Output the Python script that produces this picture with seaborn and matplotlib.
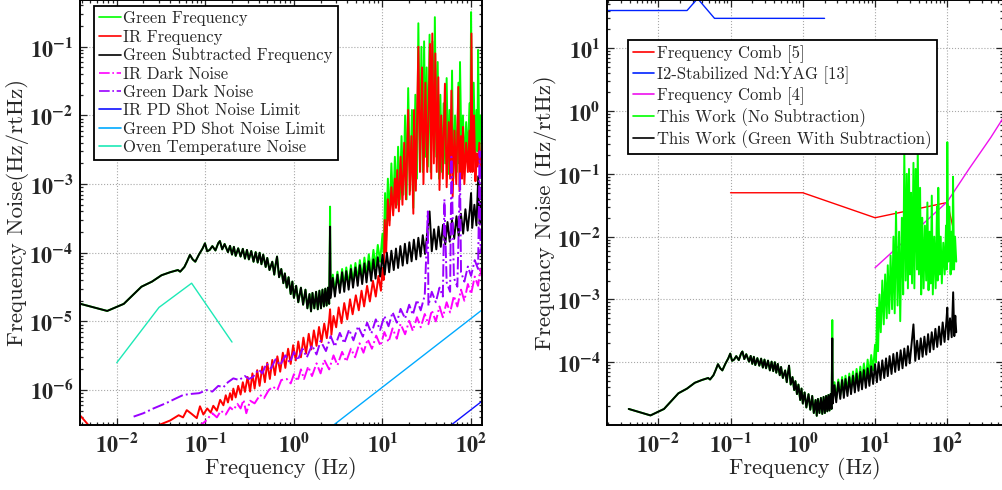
import matplotlib
matplotlib.use("Agg")
import matplotlib.pyplot as plt
import seaborn as sns

# ---------------- data ----------------
# low-frequency part shared by the green and green-subtracted spectra
common_freq = [0.0039, 0.0078, 0.012, 0.019, 0.025, 0.032, 0.04, 0.049, 0.052, 0.058,
               0.062, 0.067, 0.072, 0.077, 0.085, 0.093, 0.099, 0.105, 0.112, 0.12,
               0.13, 0.14, 0.146, 0.155, 0.165, 0.18, 0.19, 0.2, 0.21, 0.22,
               0.235, 0.25, 0.265, 0.28, 0.295, 0.31, 0.33, 0.35, 0.37, 0.39,
               0.41, 0.43, 0.45, 0.48, 0.5, 0.53, 0.57, 0.6, 0.62, 0.645,
               0.68, 0.72, 0.76, 0.79, 0.83, 0.87, 0.92, 0.96, 1.0, 1.06,
               1.12, 1.2, 1.27, 1.35, 1.42, 1.5, 1.56, 1.62, 1.7, 1.78,
               1.86, 1.94, 2.02, 2.1, 2.18, 2.26, 2.34, 2.42, 2.5]
common_noise = [1.8e-5, 1.42e-5, 1.8e-5, 3.2e-5, 3.8e-5, 4.7e-5, 5.2e-5, 5.6e-5, 5.3e-5, 6.2e-5,
                7.4e-5, 9.3e-5, 8.0e-5, 7.4e-5, 9.5e-5, 1.15e-4, 1.37e-4, 1.05e-4, 1.1e-4, 1.25e-4,
                1.08e-4, 1.38e-4, 1.48e-4, 1.12e-4, 1.34e-4, 1.02e-4, 1.26e-4, 9.4e-5, 1.22e-4, 9.0e-5,
                1.16e-4, 8.8e-5, 1.14e-4, 8.2e-5, 1.1e-4, 8.0e-5, 1.06e-4, 7.4e-5, 1.02e-4, 7.2e-5,
                1.0e-4, 6.8e-5, 9.4e-5, 6.2e-5, 8.4e-5, 5.6e-5, 7.4e-5, 4.8e-5, 6.6e-5, 8.8e-5,
                4.4e-5, 5.8e-5, 3.6e-5, 5.0e-5, 3.1e-5, 4.4e-5, 2.5e-5, 3.8e-5, 2.2e-5, 3.3e-5,
                1.9e-5, 3.1e-5, 1.75e-5, 2.9e-5, 1.55e-5, 2.5e-5, 1.4e-5, 2.6e-5, 1.55e-5, 2.7e-5,
                1.5e-5, 2.8e-5, 1.55e-5, 2.9e-5, 1.65e-5, 3.0e-5, 1.7e-5, 3.1e-5, 1.8e-5]

# green frequency above 2.5 Hz
green_tail_freq = [2.56, 2.6, 2.75, 2.9, 3.1, 3.3, 3.5, 3.7,
                   3.9, 4.15, 4.4, 4.65, 4.95, 5.25, 5.55, 5.9,
                   6.25, 6.6, 7.0, 7.45, 7.9, 8.35, 8.85, 9.4,
                   10.0, 10.3, 10.7, 11.0, 11.5, 12.0,
                   12.6, 13.2, 13.8, 14.5, 15.0, 15.7, 16.4, 17.2,
                   18.0, 18.7, 19.5, 20.5, 21.5, 22.3, 23.5, 24.5,
                   25.4, 26.5, 27.5, 28.5, 29.5, 30.5, 31.5, 32.5,
                   34.0, 35.0, 36.5, 38.0, 39.0, 40.5, 42.0, 43.5,
                   45.0, 47.0, 49.0, 51.0, 53.0, 55.0, 57.0, 59.0,
                   61.0, 63.0, 66.0, 69.0, 72.0, 73.5, 75.0, 78.0,
                   81.0, 84.0, 88.0, 92.0, 96.0, 98.0, 100.0, 103.0,
                   107.0, 111.0, 115.0, 118.0, 120.0, 124.0, 128.0, 133.0]
green_tail_noise = [4.7e-4, 2.6e-5, 4.8e-5, 2.7e-5, 5.3e-5, 3.0e-5, 5.8e-5, 3.2e-5,
                    6.1e-5, 3.4e-5, 6.6e-5, 3.7e-5, 7.1e-5, 4.0e-5, 7.8e-5, 4.3e-5,
                    8.5e-5, 4.7e-5, 9.5e-5, 5.3e-5, 1.1e-4, 6.2e-5, 1.3e-4, 7.4e-5,
                    1.9e-4, 1.0e-4, 7.4e-4, 1.5e-4, 1.2e-3, 3.0e-4,
                    2.0e-3, 4.0e-4, 2.5e-3, 5.0e-4, 3.5e-3, 6.0e-4, 5.0e-3, 7.0e-4,
                    1.0e-2, 6.0e-4, 2.5e-2, 8.0e-4, 1.2e-2, 4.5e-4, 2.0e-2, 1.2e-3,
                    0.22, 2.0e-3, 0.10, 1.5e-3, 0.12, 2.5e-3, 0.05, 1.8e-3,
                    0.15, 1.5e-3, 0.12, 3.0e-3, 0.27, 2.5e-3, 0.06, 1.2e-3,
                    0.02, 1.5e-3, 0.015, 2.0e-3, 0.035, 1.4e-3, 0.012, 1.8e-3,
                    0.045, 1.2e-3, 0.01, 1.5e-3, 0.03, 2.0e-3, 0.06, 2.5e-3,
                    0.01, 1.8e-3, 0.008, 2.5e-3, 0.015, 3.0e-3, 0.32, 4.0e-3,
                    0.03, 2.5e-3, 0.012, 3.0e-3, 0.09, 3.0e-3, 0.01, 4.0e-3]

# green with IR subtraction above 2.5 Hz
sub_tail_freq = [2.56, 2.6, 2.75, 2.9, 3.1, 3.3, 3.5, 3.7,
                 3.9, 4.15, 4.4, 4.65, 4.95, 5.25, 5.55, 5.9,
                 6.25, 6.6, 7.0, 7.45, 7.9, 8.35, 8.85, 9.4,
                 10.0, 10.6, 11.2, 11.9, 12.6, 13.4, 14.2, 15.0,
                 15.9, 16.9, 17.9, 19.0, 20.1, 21.3, 22.6, 24.0,
                 25.4, 26.9, 28.5, 30.2, 32.0, 34.0, 36.0, 38.2,
                 40.5, 42.9, 45.5, 48.2, 51.1, 54.2, 57.4, 60.9,
                 64.5, 68.4, 72.5, 76.8, 81.4, 86.3, 91.5, 97.0,
                 100.0, 103.0, 109.0, 115.0, 120.5, 125.0, 129.0, 133.0]
sub_tail_noise = [2.4e-4, 2.2e-5, 4.3e-5, 2.3e-5, 4.8e-5, 2.6e-5, 5.2e-5, 2.7e-5,
                  5.4e-5, 2.9e-5, 5.8e-5, 3.1e-5, 6.1e-5, 3.3e-5, 6.6e-5, 3.5e-5,
                  7.0e-5, 3.7e-5, 7.5e-5, 3.9e-5, 8.0e-5, 4.2e-5, 8.6e-5, 4.5e-5,
                  9.3e-5, 4.8e-5, 1.0e-4, 5.2e-5, 1.07e-4, 5.6e-5, 1.15e-4, 6.0e-5,
                  1.25e-4, 6.5e-5, 1.35e-4, 7.0e-5, 1.42e-4, 7.5e-5, 1.55e-4, 8.0e-5,
                  1.65e-4, 8.8e-5, 1.8e-4, 9.6e-5, 1.95e-4, 4.0e-4, 1.05e-4, 2.2e-4,
                  1.12e-4, 2.4e-4, 1.22e-4, 2.55e-4, 1.32e-4, 2.8e-4, 1.45e-4, 3.0e-4,
                  1.6e-4, 3.4e-4, 1.75e-4, 3.7e-4, 1.9e-4, 4.3e-4, 2.1e-4, 4.4e-4,
                  7.4e-4, 2.3e-4, 5.0e-4, 2.5e-4, 1.3e-3, 2.6e-4, 5.5e-4, 3.0e-4]

# IR frequency noise
ir_freq = [0.0039, 0.005, 0.01, 0.02, 0.03, 0.04, 0.05, 0.056,
           0.0617, 0.07, 0.08, 0.087, 0.095, 0.105, 0.115, 0.123,
           0.135, 0.147, 0.16, 0.17, 0.18, 0.19, 0.2, 0.207,
           0.22, 0.235, 0.25, 0.265, 0.28, 0.3, 0.32, 0.34,
           0.36, 0.385, 0.41, 0.44, 0.47, 0.5, 0.535, 0.57,
           0.61, 0.65, 0.7, 0.75, 0.8, 0.86, 0.92, 0.98,
           1.05, 1.12, 1.2, 1.28, 1.37, 1.47, 1.57, 1.68,
           1.8, 1.92, 2.05, 2.2, 2.35, 2.5, 2.56, 2.65,
           2.8, 3.0, 3.2, 3.45, 3.7, 4.0, 4.3, 4.6,
           5.0, 5.4, 5.8, 6.2, 6.7, 7.2, 7.8, 8.4,
           9.0, 9.6, 10.0, 10.3, 10.6, 11.0, 11.5, 12.0,
           12.6, 13.2, 13.8, 14.2, 14.7, 15.3, 16.0, 16.8,
           17.6, 18.4, 19.5, 20.3, 21.2, 22.3, 22.7, 23.8,
           25.4, 26.5, 28.0, 29.0, 30.5, 32.0, 34.4, 35.5,
           36.5, 38.0, 39.5, 41.0, 42.7, 44.0, 46.0, 48.0,
           50.7, 53.0, 56.0, 58.0, 60.0, 62.0, 65.0, 68.0,
           71.8, 74.0, 77.0, 79.0, 81.0, 84.0, 88.0, 92.0,
           96.0, 98.5, 101.0, 104.0, 108.0, 112.0, 115.0, 119.0,
           124.0, 128.0, 133.0]
ir_noise = [4.2e-7, 2.9e-7, 1.5e-7, 2.2e-7, 3.1e-7, 3.6e-7, 4.3e-7, 4.0e-7,
            5.1e-7, 4.5e-7, 3.9e-7, 5.8e-7, 4.4e-7, 5.4e-7, 4.7e-7, 5.9e-7,
            5.0e-7, 7.2e-7, 6.0e-7, 8.4e-7, 6.6e-7, 9.0e-7, 7.2e-7, 1.05e-6,
            7.8e-7, 1.15e-6, 8.6e-7, 1.3e-6, 9.4e-7, 1.55e-6, 9.5e-7, 1.75e-6,
            1.05e-6, 1.95e-6, 1.15e-6, 2.2e-6, 1.3e-6, 2.5e-6, 1.45e-6, 2.75e-6,
            1.65e-6, 3.1e-6, 1.85e-6, 3.5e-6, 2.1e-6, 4.0e-6, 2.4e-6, 4.5e-6,
            2.7e-6, 5.1e-6, 3.0e-6, 5.8e-6, 3.4e-6, 6.6e-6, 3.9e-6, 7.4e-6,
            4.4e-6, 8.3e-6, 5.0e-6, 9.3e-6, 5.7e-6, 1.05e-5, 1.5e-5, 6.4e-6,
            1.2e-5, 8.2e-6, 1.6e-5, 9.4e-6, 1.85e-5, 1.07e-5, 2.1e-5, 1.27e-5,
            2.4e-5, 1.45e-5, 2.8e-5, 1.65e-5, 3.3e-5, 1.95e-5, 3.9e-5, 2.3e-5,
            4.6e-5, 2.8e-5, 6.0e-5, 4.0e-5, 3.0e-4, 1.0e-4, 6.0e-4, 2.5e-4,
            9.0e-4, 3.5e-4, 1.2e-3, 4.5e-4, 1.6e-3, 4.0e-4, 2.5e-3, 5.0e-4,
            4.0e-3, 6.0e-4, 1.2e-2, 7.0e-4, 5.0e-3, 3.7e-4, 1.2e-2, 8.0e-4,
            0.10, 1.5e-3, 0.05, 1.0e-3, 0.03, 1.5e-3, 0.11, 1.2e-3,
            0.156, 2.0e-3, 0.08, 1.5e-3, 0.036, 8.2e-4, 0.01, 1.2e-3,
            0.029, 9.0e-4, 0.008, 1.2e-3, 0.023, 6.6e-4, 0.006, 1.0e-3,
            0.026, 8.2e-4, 0.005, 1.2e-3, 0.0068, 1.0e-3, 0.004, 1.5e-3,
            0.006, 1.5e-3, 0.156, 1.5e-3, 0.01, 1.1e-3, 2.8e-3, 1.8e-3,
            4.0e-3, 1.5e-3, 3.0e-3]

# photodetector dark noise
ir_dark_freq = [0.08, 0.1, 0.12, 0.135, 0.15, 0.17, 0.19, 0.207,
                0.23, 0.25, 0.27, 0.29, 0.32, 0.36, 0.415, 0.46,
                0.52, 0.58, 0.65, 0.72, 0.83, 0.92, 1.0, 1.1,
                1.2, 1.3, 1.45, 1.6, 1.8, 2.0, 2.2, 2.5,
                2.8, 3.1, 3.5, 3.9, 4.4, 4.9, 5.5, 6.1,
                6.8, 7.6, 8.5, 9.5, 10.5, 11.7, 13.0, 14.5,
                16.0, 18.0, 20.0, 22.0, 24.5, 27.0, 30.0, 33.0,
                36.0, 40.0, 44.0, 48.0, 53.0, 58.0, 64.0, 70.0,
                77.0, 84.0, 92.0, 100.0, 110.0, 120.0, 127.0, 133.0]
ir_dark_noise = [2.8e-7, 3.5e-7, 4.6e-7, 4.0e-7, 5.0e-7, 4.4e-7, 5.6e-7, 5.1e-7,
                 6.3e-7, 5.4e-7, 7.2e-7, 4.6e-7, 7.0e-7, 6.4e-7, 8.5e-7, 7.6e-7,
                 1.0e-6, 1.12e-6, 1.0e-6, 1.4e-6, 1.45e-6, 1.25e-6, 1.7e-6, 1.35e-6,
                 2.0e-6, 1.45e-6, 2.2e-6, 1.6e-6, 2.45e-6, 1.75e-6, 2.75e-6, 2.0e-6,
                 3.2e-6, 2.3e-6, 3.6e-6, 2.6e-6, 4.0e-6, 3.0e-6, 4.8e-6, 3.5e-6,
                 5.5e-6, 4.0e-6, 6.2e-6, 4.4e-6, 7.0e-6, 5.0e-6, 7.9e-6, 5.6e-6,
                 9.2e-6, 6.5e-6, 1.02e-5, 7.3e-6, 1.15e-5, 8.2e-6, 1.28e-5, 9.1e-6,
                 1.45e-5, 1.0e-5, 1.65e-5, 1.15e-5, 1.9e-5, 1.35e-5, 2.35e-5, 1.65e-5,
                 2.9e-5, 2.0e-5, 3.5e-5, 2.5e-5, 4.5e-5, 3.3e-5, 5.8e-5, 4.4e-5]

green_dark_freq = [0.0155, 0.02, 0.026, 0.0366, 0.045, 0.0565, 0.07, 0.085,
                   0.104, 0.12, 0.14, 0.16, 0.18, 0.207, 0.24, 0.28,
                   0.31, 0.345, 0.4, 0.44, 0.49, 0.55, 0.62, 0.7,
                   0.8, 0.9, 1.0, 1.1, 1.25, 1.4, 1.6, 1.8,
                   2.0, 2.3, 2.6, 2.9, 3.3, 3.7, 4.2, 4.7,
                   5.3, 6.0, 6.7, 7.5, 8.4, 9.4, 10.5, 11.7,
                   13.0, 14.5, 16.0, 18.0, 20.0, 22.0, 24.5, 27.0,
                   30.0, 32.5, 33.0, 36.0, 40.0, 44.0, 48.0, 50.0,
                   53.0, 58.0, 60.0, 64.0, 70.0, 75.0, 77.0, 84.0,
                   92.0, 100.0, 110.0, 120.0, 125.0, 128.0, 133.0]
green_dark_noise = [4.1e-7, 4.6e-7, 5.4e-7, 6.5e-7, 7.4e-7, 8.5e-7, 8.8e-7, 9.0e-7,
                    1.0e-6, 9.5e-7, 1.15e-6, 1.1e-6, 1.3e-6, 1.48e-6, 1.4e-6, 1.6e-6,
                    1.45e-6, 1.55e-6, 2.0e-6, 1.75e-6, 2.45e-6, 2.05e-6, 2.8e-6, 2.3e-6,
                    3.2e-6, 2.5e-6, 3.6e-6, 2.7e-6, 4.0e-6, 3.0e-6, 4.5e-6, 3.3e-6,
                    5.2e-6, 3.7e-6, 6.1e-6, 4.3e-6, 6.8e-6, 4.8e-6, 7.6e-6, 5.3e-6,
                    8.5e-6, 6.0e-6, 9.6e-6, 6.7e-6, 1.07e-5, 7.5e-6, 1.2e-5, 8.5e-6,
                    1.36e-5, 9.6e-6, 1.52e-5, 1.1e-5, 1.75e-5, 1.25e-5, 2.05e-5, 1.45e-5,
                    2.4e-5, 4.0e-4, 1.7e-5, 2.7e-5, 1.9e-5, 3.1e-5, 2.3e-5, 6.0e-4,
                    3.7e-5, 2.7e-5, 2.5e-3, 4.3e-5, 3.2e-5, 1.5e-3, 5.2e-5, 3.8e-5,
                    6.3e-5, 4.6e-5, 7.8e-5, 5.8e-5, 3.0e-3, 1.0e-4, 1.4e-4]

# shot noise limits and oven temperature noise
ir_shot_freq = [1.0, 133.0]
ir_shot_noise = [5.2e-9, 6.9e-7]
green_shot_freq = [0.1, 133.0]
green_shot_noise = [1.1e-8, 1.47e-5]
oven_freq = [0.01, 0.03, 0.07, 0.2]
oven_noise = [2.5e-6, 1.6e-5, 3.6e-5, 5.0e-6]

# published comparison curves
comb5_freq = [0.1, 1.0, 10.0, 100.0, 120.0]
comb5_noise = [0.05, 0.05, 0.02, 0.035, 0.014]
yag_freq = [0.002, 0.025, 0.035, 0.06, 2.0]
yag_noise = [40.0, 40.0, 62.0, 30.0, 30.0]
comb4_freq = [10.0, 100.0, 200.0, 400.0, 1000.0]
comb4_noise = [0.0032, 0.036, 0.12, 0.38, 2.0]

x_ticks = [1e-2, 1e-1, 1e0, 1e1, 1e2]
x_tick_labels = [r"$\mathbf{10^{-2}}$", r"$\mathbf{10^{-1}}$", r"$\mathbf{10^{0}}$",
                 r"$\mathbf{10^{1}}$", r"$\mathbf{10^{2}}$"]
left_y_ticks = [1e-6, 1e-5, 1e-4, 1e-3, 1e-2, 1e-1]
left_y_tick_labels = [r"$\mathbf{10^{-6}}$", r"$\mathbf{10^{-5}}$", r"$\mathbf{10^{-4}}$",
                      r"$\mathbf{10^{-3}}$", r"$\mathbf{10^{-2}}$", r"$\mathbf{10^{-1}}$"]
right_y_ticks = [1e-4, 1e-3, 1e-2, 1e-1, 1e0, 1e1]
right_y_tick_labels = [r"$\mathbf{10^{-4}}$", r"$\mathbf{10^{-3}}$", r"$\mathbf{10^{-2}}$",
                       r"$\mathbf{10^{-1}}$", r"$\mathbf{10^{0}}$", r"$\mathbf{10^{1}}$"]

green_freq = common_freq + green_tail_freq
green_noise = common_noise + green_tail_noise
sub_freq = common_freq + sub_tail_freq
sub_noise = common_noise + sub_tail_noise

# ---------------- style ----------------
sns.set_style("ticks")
plt.rcParams.update({
    "font.family": ["cmr10"],
    "mathtext.fontset": "stix",
    "axes.unicode_minus": False,
    "axes.formatter.use_mathtext": True,
})

C_GREEN = "#00ff00"
C_RED = "#ff0000"
C_BLACK = "#000000"
C_MAGENTA = "#ff00ff"
C_PURPLE = "#9900ff"
C_BLUE = "#1010ff"
C_LIGHTBLUE = "#00aaff"
C_OVEN = "#1de9b6"

NOISY_LW = 1.4
CLEAN_LW = 1.0

fig = plt.figure(figsize=(10.03, 4.9), dpi=100)
ax_l = fig.add_axes([0.0798, 0.1327, 0.4008, 0.8673])
ax_r = fig.add_axes([0.6055, 0.1327, 0.3945, 0.8673])


def trace(ax, f, v, color, label, ls="-", lw=CLEAN_LW):
    sns.lineplot(x=f, y=v, ax=ax, color=color, label=label, linestyle=ls,
                 linewidth=lw, estimator=None, sort=False, legend=False)


# left panel: noise budget
trace(ax_l, green_freq, green_noise, C_GREEN, "Green Frequency", lw=NOISY_LW)
trace(ax_l, ir_freq, ir_noise, C_RED, "IR Frequency", lw=NOISY_LW)
trace(ax_l, sub_freq, sub_noise, C_BLACK, "Green Subtracted Frequency", lw=NOISY_LW)
trace(ax_l, ir_dark_freq, ir_dark_noise, C_MAGENTA, "IR Dark Noise", ls="-.", lw=NOISY_LW)
trace(ax_l, green_dark_freq, green_dark_noise, C_PURPLE, "Green Dark Noise", ls="-.", lw=NOISY_LW)
trace(ax_l, ir_shot_freq, ir_shot_noise, C_BLUE, "IR PD Shot Noise Limit")
trace(ax_l, green_shot_freq, green_shot_noise, C_LIGHTBLUE, "Green PD Shot Noise Limit")
trace(ax_l, oven_freq, oven_noise, C_OVEN, "Oven Temperature Noise")

# right panel: comparison with other references
trace(ax_r, comb5_freq, comb5_noise, C_RED, "Frequency Comb [5]")
trace(ax_r, yag_freq, yag_noise, "#0022ff", "I2-Stabilized Nd:YAG [13]")
trace(ax_r, comb4_freq, comb4_noise, "#ee11ee", "Frequency Comb [4]")
trace(ax_r, green_freq, green_noise, C_GREEN, "This Work (No Subtraction)", lw=NOISY_LW)
trace(ax_r, sub_freq, sub_noise, C_BLACK, "This Work (Green With Subtraction)", lw=NOISY_LW)

for ax in (ax_l, ax_r):
    ax.set_xscale("log")
    ax.set_yscale("log")
    ax.grid(True, which="major", linestyle=":", color="#a8a8a8", linewidth=0.8)
    ax.grid(False, which="minor")
    ax.tick_params(which="both", direction="in", top=True, right=True, width=0.9)
    ax.tick_params(which="major", length=5, labelsize=16, pad=5)
    ax.tick_params(which="minor", length=2.5)
    for s in ax.spines.values():
        s.set_linewidth(1.4)
        s.set_color("black")
    ax.set_xticks(x_ticks, x_tick_labels)
    ax.set_xlabel("Frequency (Hz)", fontsize=16, labelpad=1)

ax_l.set_xlim(0.00385, 133)
ax_l.set_ylim(3.1e-7, 0.48)
ax_l.set_yticks(left_y_ticks, left_y_tick_labels)
ax_l.set_ylabel("Frequency Noise(Hz/rtHz)", fontsize=16.5, labelpad=0)

ax_r.set_xlim(0.00197, 590)
ax_r.set_ylim(1.0e-5, 58.8)
ax_r.set_yticks(right_y_ticks, right_y_tick_labels)
ax_r.set_ylabel("Frequency Noise (Hz/rtHz)", fontsize=16.5, labelpad=0)

leg_l = ax_l.legend(loc="upper left", bbox_to_anchor=(0.035, 0.986), fontsize=12,
                    frameon=True, fancybox=False, edgecolor="black", framealpha=1,
                    handlelength=1.3, handletextpad=0.15, labelspacing=0.18,
                    borderpad=0.3, borderaxespad=0)
leg_r = ax_r.legend(loc="upper left", bbox_to_anchor=(0.0516, 0.906), fontsize=12,
                    frameon=True, fancybox=False, edgecolor="black", framealpha=1,
                    handlelength=1.3, handletextpad=0.15, labelspacing=0.2,
                    borderpad=0.3, borderaxespad=0)
for leg in (leg_l, leg_r):
    leg.get_frame().set_linewidth(1.3)
    for h in leg.legend_handles:
        h.set_linewidth(1.2)

fig.savefig("out.png", dpi=100)
